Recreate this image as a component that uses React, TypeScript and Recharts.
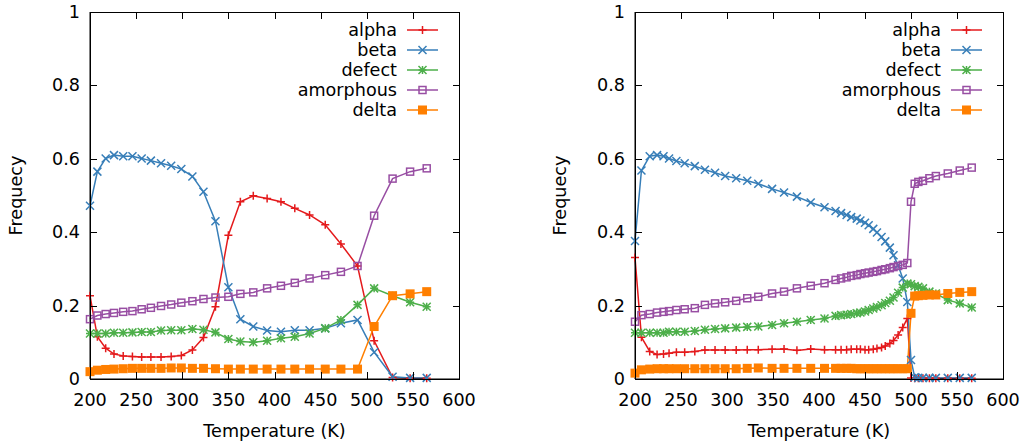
import { LineChart, Line, XAxis, YAxis, Legend } from "recharts";

// left run: temperatures (K) and phase fractions
const tempsLeft = [200, 208, 217, 226, 236, 246, 256, 266, 277, 288, 299, 311, 323, 336, 350, 363, 377, 392, 407, 422, 438, 455, 472, 490, 508, 528, 547, 565];
const alphaLeft = [0.227, 0.115, 0.084, 0.068, 0.063, 0.061, 0.06, 0.06, 0.06, 0.061, 0.064, 0.079, 0.113, 0.197, 0.392, 0.483, 0.499, 0.492, 0.483, 0.465, 0.447, 0.42, 0.368, 0.308, 0.104, 0.004, 0.002, 0.002];
const betaLeft = [0.472, 0.565, 0.601, 0.61, 0.607, 0.607, 0.601, 0.595, 0.588, 0.581, 0.572, 0.552, 0.51, 0.43, 0.25, 0.163, 0.143, 0.132, 0.129, 0.133, 0.133, 0.138, 0.152, 0.161, 0.073, 0.006, 0.003, 0.003];
const defectLeft = [0.124, 0.124, 0.124, 0.126, 0.126, 0.127, 0.128, 0.128, 0.132, 0.133, 0.133, 0.136, 0.134, 0.127, 0.109, 0.102, 0.1, 0.104, 0.111, 0.115, 0.124, 0.138, 0.161, 0.202, 0.247, 0.227, 0.209, 0.197];
const amorphousLeft = [0.163, 0.173, 0.177, 0.18, 0.183, 0.185, 0.19, 0.194, 0.199, 0.203, 0.208, 0.212, 0.218, 0.222, 0.224, 0.232, 0.236, 0.247, 0.254, 0.262, 0.274, 0.283, 0.292, 0.308, 0.445, 0.546, 0.565, 0.574];
const deltaLeft = [0.02, 0.024, 0.026, 0.027, 0.028, 0.029, 0.029, 0.029, 0.029, 0.03, 0.03, 0.029, 0.029, 0.028, 0.027, 0.027, 0.027, 0.027, 0.027, 0.027, 0.027, 0.027, 0.027, 0.027, 0.143, 0.227, 0.232, 0.238];

// right run: finer sampling near the transition
const tempsRight = [200, 207, 216, 224, 231, 237, 245, 254, 265, 276, 287, 298, 310, 322, 334, 349, 362, 376, 391, 406, 418, 424, 430, 435, 441, 445, 450, 454, 459, 463, 468, 472, 477, 481, 486, 491, 496, 500, 504, 508, 513, 520, 527, 540, 553, 566];
const alphaRight = [0.331, 0.114, 0.075, 0.067, 0.068, 0.07, 0.073, 0.073, 0.075, 0.079, 0.079, 0.079, 0.079, 0.08, 0.08, 0.081, 0.082, 0.078, 0.082, 0.08, 0.08, 0.08, 0.08, 0.081, 0.081, 0.081, 0.08, 0.08, 0.081, 0.083, 0.086, 0.09, 0.097, 0.105, 0.12, 0.14, 0.165, 0.003, 0.002, 0.002, 0.002, 0.002, 0.002, 0.002, 0.002, 0.002];
const betaRight = [0.376, 0.568, 0.607, 0.61, 0.607, 0.601, 0.594, 0.588, 0.58, 0.57, 0.562, 0.553, 0.547, 0.54, 0.532, 0.518, 0.508, 0.497, 0.481, 0.468, 0.458, 0.452, 0.447, 0.441, 0.437, 0.432, 0.426, 0.419, 0.409, 0.399, 0.387, 0.375, 0.358, 0.337, 0.31, 0.274, 0.21, 0.052, 0.005, 0.003, 0.003, 0.003, 0.003, 0.003, 0.003, 0.003];
const defectRight = [0.126, 0.126, 0.126, 0.126, 0.126, 0.129, 0.129, 0.129, 0.131, 0.134, 0.136, 0.138, 0.14, 0.142, 0.143, 0.147, 0.152, 0.156, 0.161, 0.165, 0.172, 0.174, 0.175, 0.177, 0.179, 0.181, 0.184, 0.188, 0.192, 0.196, 0.201, 0.207, 0.213, 0.222, 0.235, 0.249, 0.26, 0.258, 0.253, 0.251, 0.247, 0.238, 0.233, 0.215, 0.206, 0.195];
const amorphousRight = [0.156, 0.174, 0.177, 0.181, 0.183, 0.185, 0.188, 0.19, 0.193, 0.202, 0.206, 0.209, 0.213, 0.22, 0.224, 0.233, 0.238, 0.247, 0.254, 0.261, 0.27, 0.274, 0.277, 0.281, 0.283, 0.286, 0.288, 0.29, 0.292, 0.294, 0.297, 0.299, 0.302, 0.305, 0.308, 0.311, 0.316, 0.483, 0.532, 0.537, 0.54, 0.547, 0.553, 0.56, 0.568, 0.576];
const deltaRight = [0.016, 0.025, 0.027, 0.028, 0.028, 0.028, 0.028, 0.028, 0.028, 0.028, 0.028, 0.028, 0.028, 0.029, 0.03, 0.029, 0.029, 0.029, 0.029, 0.029, 0.029, 0.029, 0.029, 0.029, 0.028, 0.028, 0.028, 0.028, 0.028, 0.028, 0.028, 0.028, 0.028, 0.028, 0.028, 0.028, 0.028, 0.179, 0.226, 0.227, 0.228, 0.229, 0.229, 0.233, 0.236, 0.238];

const xTicks = [200, 250, 300, 350, 400, 450, 500, 550, 600];
const yTicks = [0, 0.2, 0.4, 0.6, 0.8, 1];

const seriesKeys = ["alpha", "beta", "defect", "amorphous", "delta"];
const seriesColors = ["#e41a1c", "#377eb8", "#4daf4a", "#984ea3", "#ff7f00"];
const seriesMarkers = ["plus", "cross", "star", "openSquare", "square"];

const FONT = "'DejaVu Sans', sans-serif";
const FONT_SIZE = 17.6;
const INK = "#000";
const TICK = 7;
const CHART_W = 512;
const CHART_H = 445;
const TOP = 12;
const X_AXIS_H = 66;
const PLOT_H = CHART_H - TOP - X_AXIS_H;

const buildRows = (temps: number[], cols: number[][]) =>
  temps.map((t, i) => {
    const row: Record<string, number> = { t };
    seriesKeys.forEach((k, j) => (row[k] = cols[j][i]));
    return row;
  });

const leftRows = buildRows(tempsLeft, [alphaLeft, betaLeft, defectLeft, amorphousLeft, deltaLeft]);
const rightRows = buildRows(tempsRight, [alphaRight, betaRight, defectRight, amorphousRight, deltaRight]);

const Marker = ({ kind, cx, cy, color }: { kind: string; cx: number; cy: number; color: string }) => {
  const s = 4;
  const plus = `M${cx - s},${cy}H${cx + s}M${cx},${cy - s}V${cy + s}`;
  const cross = `M${cx - s},${cy - s}L${cx + s},${cy + s}M${cx - s},${cy + s}L${cx + s},${cy - s}`;
  if (kind === "plus") return <path d={plus} stroke={color} strokeWidth={1.5} fill="none" />;
  if (kind === "cross") return <path d={cross} stroke={color} strokeWidth={1.5} fill="none" />;
  if (kind === "star") return <path d={plus + cross} stroke={color} strokeWidth={1.5} fill="none" />;
  if (kind === "openSquare")
    return <rect x={cx - 3.5} y={cy - 3.5} width={7} height={7} stroke={color} strokeWidth={1.5} fill="none" />;
  return <rect x={cx - 4.5} y={cy - 4.5} width={9} height={9} fill={color} />;
};

const BottomTick = ({ x, y, payload }: any) => (
  <text x={x} y={y + 21} textAnchor="middle" dominantBaseline="central" fontFamily={FONT} fontSize={FONT_SIZE} fill={INK}>
    {payload.value}
  </text>
);

const LeftTick = ({ x, y, payload }: any) => (
  <text x={x - 10} y={y} textAnchor="end" dominantBaseline="central" fontFamily={FONT} fontSize={FONT_SIZE} fill={INK}>
    {String(payload.value)}
  </text>
);

// gnuplot-style frame with inward ticks on all four sides, laid over the plot box
const Frame = ({ left, width }: { left: number; width: number }) => {
  const bottom = TOP + PLOT_H;
  const right = left + width;
  const px = (t: number) => Math.round(left + ((t - xTicks[0]) / (xTicks[xTicks.length - 1] - xTicks[0])) * width) + 0.5;
  const py = (v: number) => Math.round(bottom - v * PLOT_H) + 0.5;
  return (
    <>
      <div
        style={{
          position: "absolute",
          left,
          top: TOP,
          width: width + 1,
          height: PLOT_H + 1,
          border: `1px solid ${INK}`,
          boxSizing: "border-box",
          pointerEvents: "none",
        }}
      />
      <svg width={CHART_W} height={CHART_H} style={{ position: "absolute", left: 0, top: 0, pointerEvents: "none" }}>
        {xTicks.map((t) => (
          <g key={`x${t}`}>
            <line x1={px(t)} x2={px(t)} y1={bottom} y2={bottom - TICK} stroke={INK} strokeWidth={1} />
            <line x1={px(t)} x2={px(t)} y1={TOP} y2={TOP + TICK} stroke={INK} strokeWidth={1} />
          </g>
        ))}
        {yTicks.map((v) => (
          <g key={`y${v}`}>
            <line x1={left} x2={left + TICK} y1={py(v)} y2={py(v)} stroke={INK} strokeWidth={1} />
            <line x1={right + 1} x2={right + 1 - TICK} y1={py(v)} y2={py(v)} stroke={INK} strokeWidth={1} />
          </g>
        ))}
      </svg>
    </>
  );
};

const LegendBox = () => (
  <svg width={200} height={104}>
    {seriesKeys.map((k, i) => {
      const y = 12 + i * 20;
      return (
        <g key={k}>
          <text x={150} y={y} textAnchor="end" dominantBaseline="central" fontFamily={FONT} fontSize={FONT_SIZE} fill={INK}>
            {k}
          </text>
          <line x1={160} x2={191} y1={y} y2={y} stroke={seriesColors[i]} strokeWidth={1.5} />
          <Marker kind={seriesMarkers[i]} cx={175.5} cy={y} color={seriesColors[i]} />
        </g>
      );
    })}
  </svg>
);

const Panel = ({ rows, axisWidth, marginRight, legendLeft, labelOffset }: any) => {
  const plotW = CHART_W - axisWidth - marginRight;
  return (
    <div style={{ position: "relative", width: CHART_W, height: CHART_H, flex: "none" }}>
      <LineChart width={CHART_W} height={CHART_H} data={rows} margin={{ top: TOP, right: marginRight, bottom: 0, left: 0 }}>
        <XAxis
          dataKey="t"
          type="number"
          domain={[200, 600]}
          ticks={xTicks}
          interval={0}
          tickSize={0}
          tickMargin={0}
          height={X_AXIS_H}
          stroke={INK}
          tick={BottomTick}
          label={{ value: "Temperature (K)", position: "insideBottom", offset: 8, fontFamily: FONT, fontSize: FONT_SIZE, fill: INK }}
        />
        <YAxis
          type="number"
          domain={[0, 1]}
          ticks={yTicks}
          interval={0}
          tickSize={0}
          tickMargin={0}
          width={axisWidth}
          stroke={INK}
          tick={LeftTick}
          label={{ value: "Frequecy", angle: -90, position: "insideLeft", offset: labelOffset, fontFamily: FONT, fontSize: FONT_SIZE, fill: INK, style: { textAnchor: "middle" } }}
        />
        {seriesKeys.map((k, j) => (
          <Line
            key={k}
            dataKey={k}
            stroke={seriesColors[j]}
            strokeWidth={1.5}
            isAnimationActive={false}
            activeDot={false}
            dot={(p: any) => <Marker key={`${k}-${p.index}`} kind={seriesMarkers[j]} cx={p.cx} cy={p.cy} color={seriesColors[j]} />}
          />
        ))}
        <Legend layout="vertical" align="center" verticalAlign="middle" content={LegendBox} wrapperStyle={{ left: legendLeft, top: 18, width: 200, height: 104 }} />
      </LineChart>
      <Frame left={axisWidth} width={plotW} />
    </div>
  );
};

export default function App() {
  return (
    <div style={{ position: "absolute", left: 0, top: 0, width: 1024, height: 445, display: "flex", background: "#fff" }}>
      <Panel rows={leftRows} axisWidth={90} marginRight={53} legendLeft={247} labelOffset={16} />
      <Panel rows={rightRows} axisWidth={123} marginRight={21} legendLeft={279} labelOffset={48} />
    </div>
  );
}
